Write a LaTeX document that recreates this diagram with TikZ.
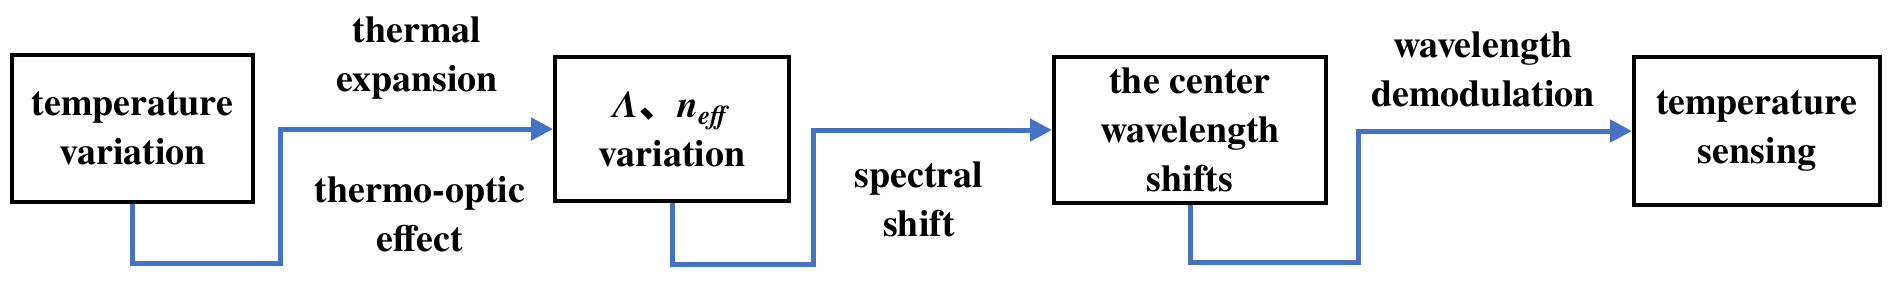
\documentclass[tikz,border=0pt]{standalone}
\usepackage{fontspec}
\setmainfont{texgyretermes}[Extension=.otf, UprightFont=*-regular, BoldFont=*-bold, ItalicFont=*-italic, BoldItalicFont=*-bolditalic]
\newfontfamily\cjk{Noto Sans CJK SC}
\usetikzlibrary{arrows.meta}
\definecolor{flowblue}{HTML}{4472C4}

\begin{document}
\begin{tikzpicture}[x=0.5pt, y=-0.5pt, >={Triangle[length=11pt,width=11pt]},
    every node/.style={font=\bfseries\fontsize{19}{24.5}\selectfont, align=center},
    stagebox/.style={draw, line width=2pt, inner sep=0pt},
    flow/.style={->, flowblue, line width=2.5pt}]
    \useasboundingbox (0,0) rectangle (1902,280);
    % stages
    \node[stagebox, minimum width=120.5pt, minimum height=73.5pt] (temp) at (132.5,128.5) {temperature\\variation};
    \node[stagebox, minimum width=117pt, minimum height=72pt] (lambda) at (672,129) {\textit{Λ}{\cjk 、}\textit{n}\textsubscript{\textit{eff}}\\variation};
    \node[stagebox, minimum width=136pt, minimum height=73pt] (shift) at (1190,130) {the center\\wavelength\\shifts};
    \node[stagebox, minimum width=123pt, minimum height=74pt] (sensing) at (1757,131) {temperature\\sensing};
    % corners of the connectors
    \coordinate (k1) at (280,263);
    \coordinate (k2) at (813,264);
    \coordinate (k3) at (1358,262);
    \draw[flow] (temp.south) |- (k1) |- (lambda.west);
    \draw[flow] (lambda.south) |- (k2) |- (shift.west);
    \draw[flow] (shift.south) |- (k3) |- (sensing.west);
    % labels
    \node (expansion) at (417,58.5) {thermal\\expansion};
    \node (optic) at (420,214.5) {thermo-optic\\effect};
    \node (spectral) at (919,199.5) {spectral\\shift};
    \node (demod) at (1483,69.5) {wavelength\\demodulation};
\end{tikzpicture}
\end{document}
